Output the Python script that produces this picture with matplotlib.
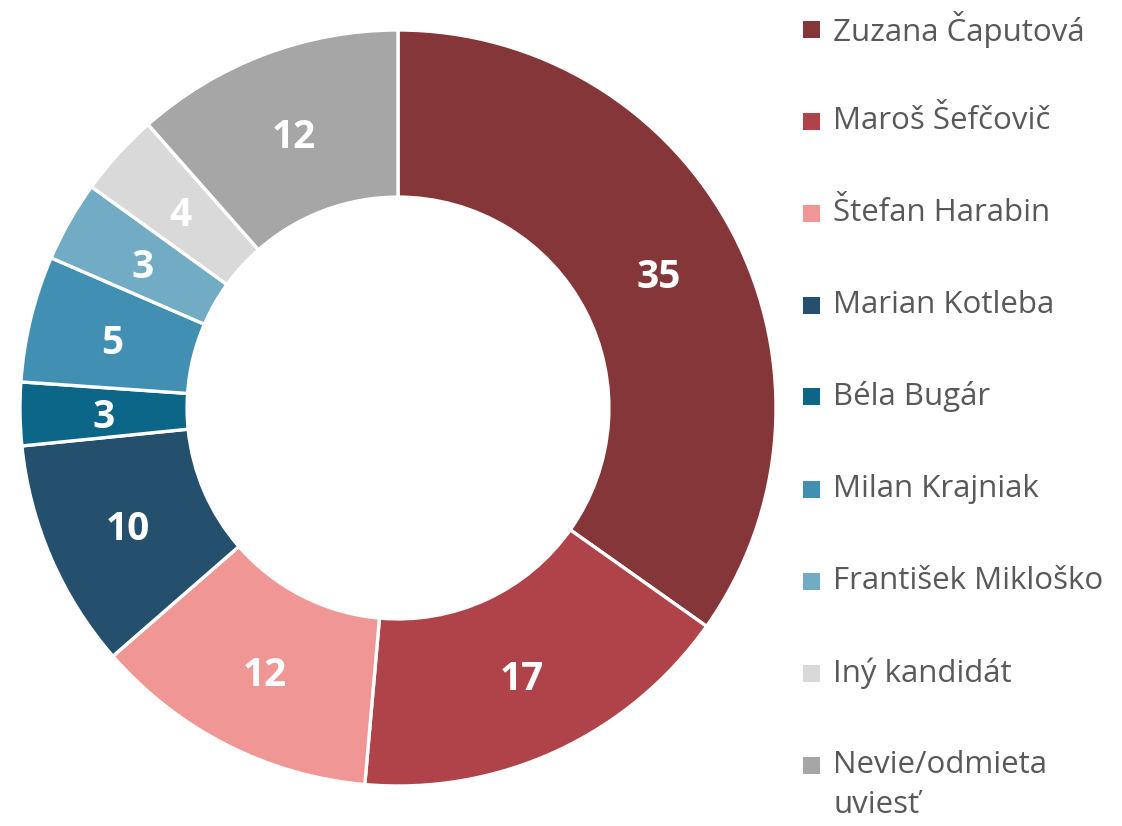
import matplotlib.pyplot as plt
from matplotlib.patches import Rectangle

plt.rcParams['font.family'] = ['Open Sans', 'DejaVu Sans']

candidates = ["Zuzana Čaputová", "Maroš Šefčovič", "Štefan Harabin", "Marian Kotleba",
              "Béla Bugár", "Milan Krajniak", "František Mikloško", "Iný kandidát",
              "Nevie/odmieta\nuviesť"]
# shares; labels are the rounded numbers shown
shares = [34.8, 16.6, 12.2, 9.8, 2.7, 5.4, 3.45, 3.55, 11.5]
labels = [35, 17, 12, 10, 3, 5, 3, 4, 12]
colors = ["#843638", "#B04349", "#F09694", "#24506E", "#0B6687",
          "#4190B3", "#72ABC4", "#D9D9D9", "#A6A6A6"]

W, H = 1122, 826
fig = plt.figure(figsize=(W / 100, H / 100), dpi=100)

cx, cy, R = 398, 408, 378
ax = fig.add_axes([(cx - R) / W, (H - cy - R) / H, 2 * R / W, 2 * R / H])
ax.set_aspect('equal')

wedges, texts = ax.pie(shares, colors=colors, startangle=90, counterclock=False,
                       radius=1, labels=[str(v) for v in labels], labeldistance=0.778,
                       wedgeprops=dict(width=0.442, edgecolor='white', linewidth=2.4),
                       textprops=dict(color='white', fontsize=28, fontweight='bold',
                                      ha='center', va='center'))
for t in texts:
    x, y = t.get_position()
    t.set_position((x, y - 5 / R))
ax.set_xlim(-1, 1)
ax.set_ylim(-1, 1)

# legend drawn by hand so the wrapped label keeps its marker on the first line
y0, step, sq, line_h = 29, 92, 17, 40
for i, (name, c) in enumerate(zip(candidates, colors)):
    y = y0 + i * step
    fig.patches.append(Rectangle((803 / W, (H - y - sq / 2) / H), sq / W, sq / H,
                                 transform=fig.transFigure, facecolor=c, edgecolor='none'))
    for k, line in enumerate(name.split('\n')):
        fig.text(833 / W, (H - y - k * line_h) / H, line, fontsize=22.5, color='#595959',
                 ha='left', va='center')

fig.savefig("out.png", dpi=100)
